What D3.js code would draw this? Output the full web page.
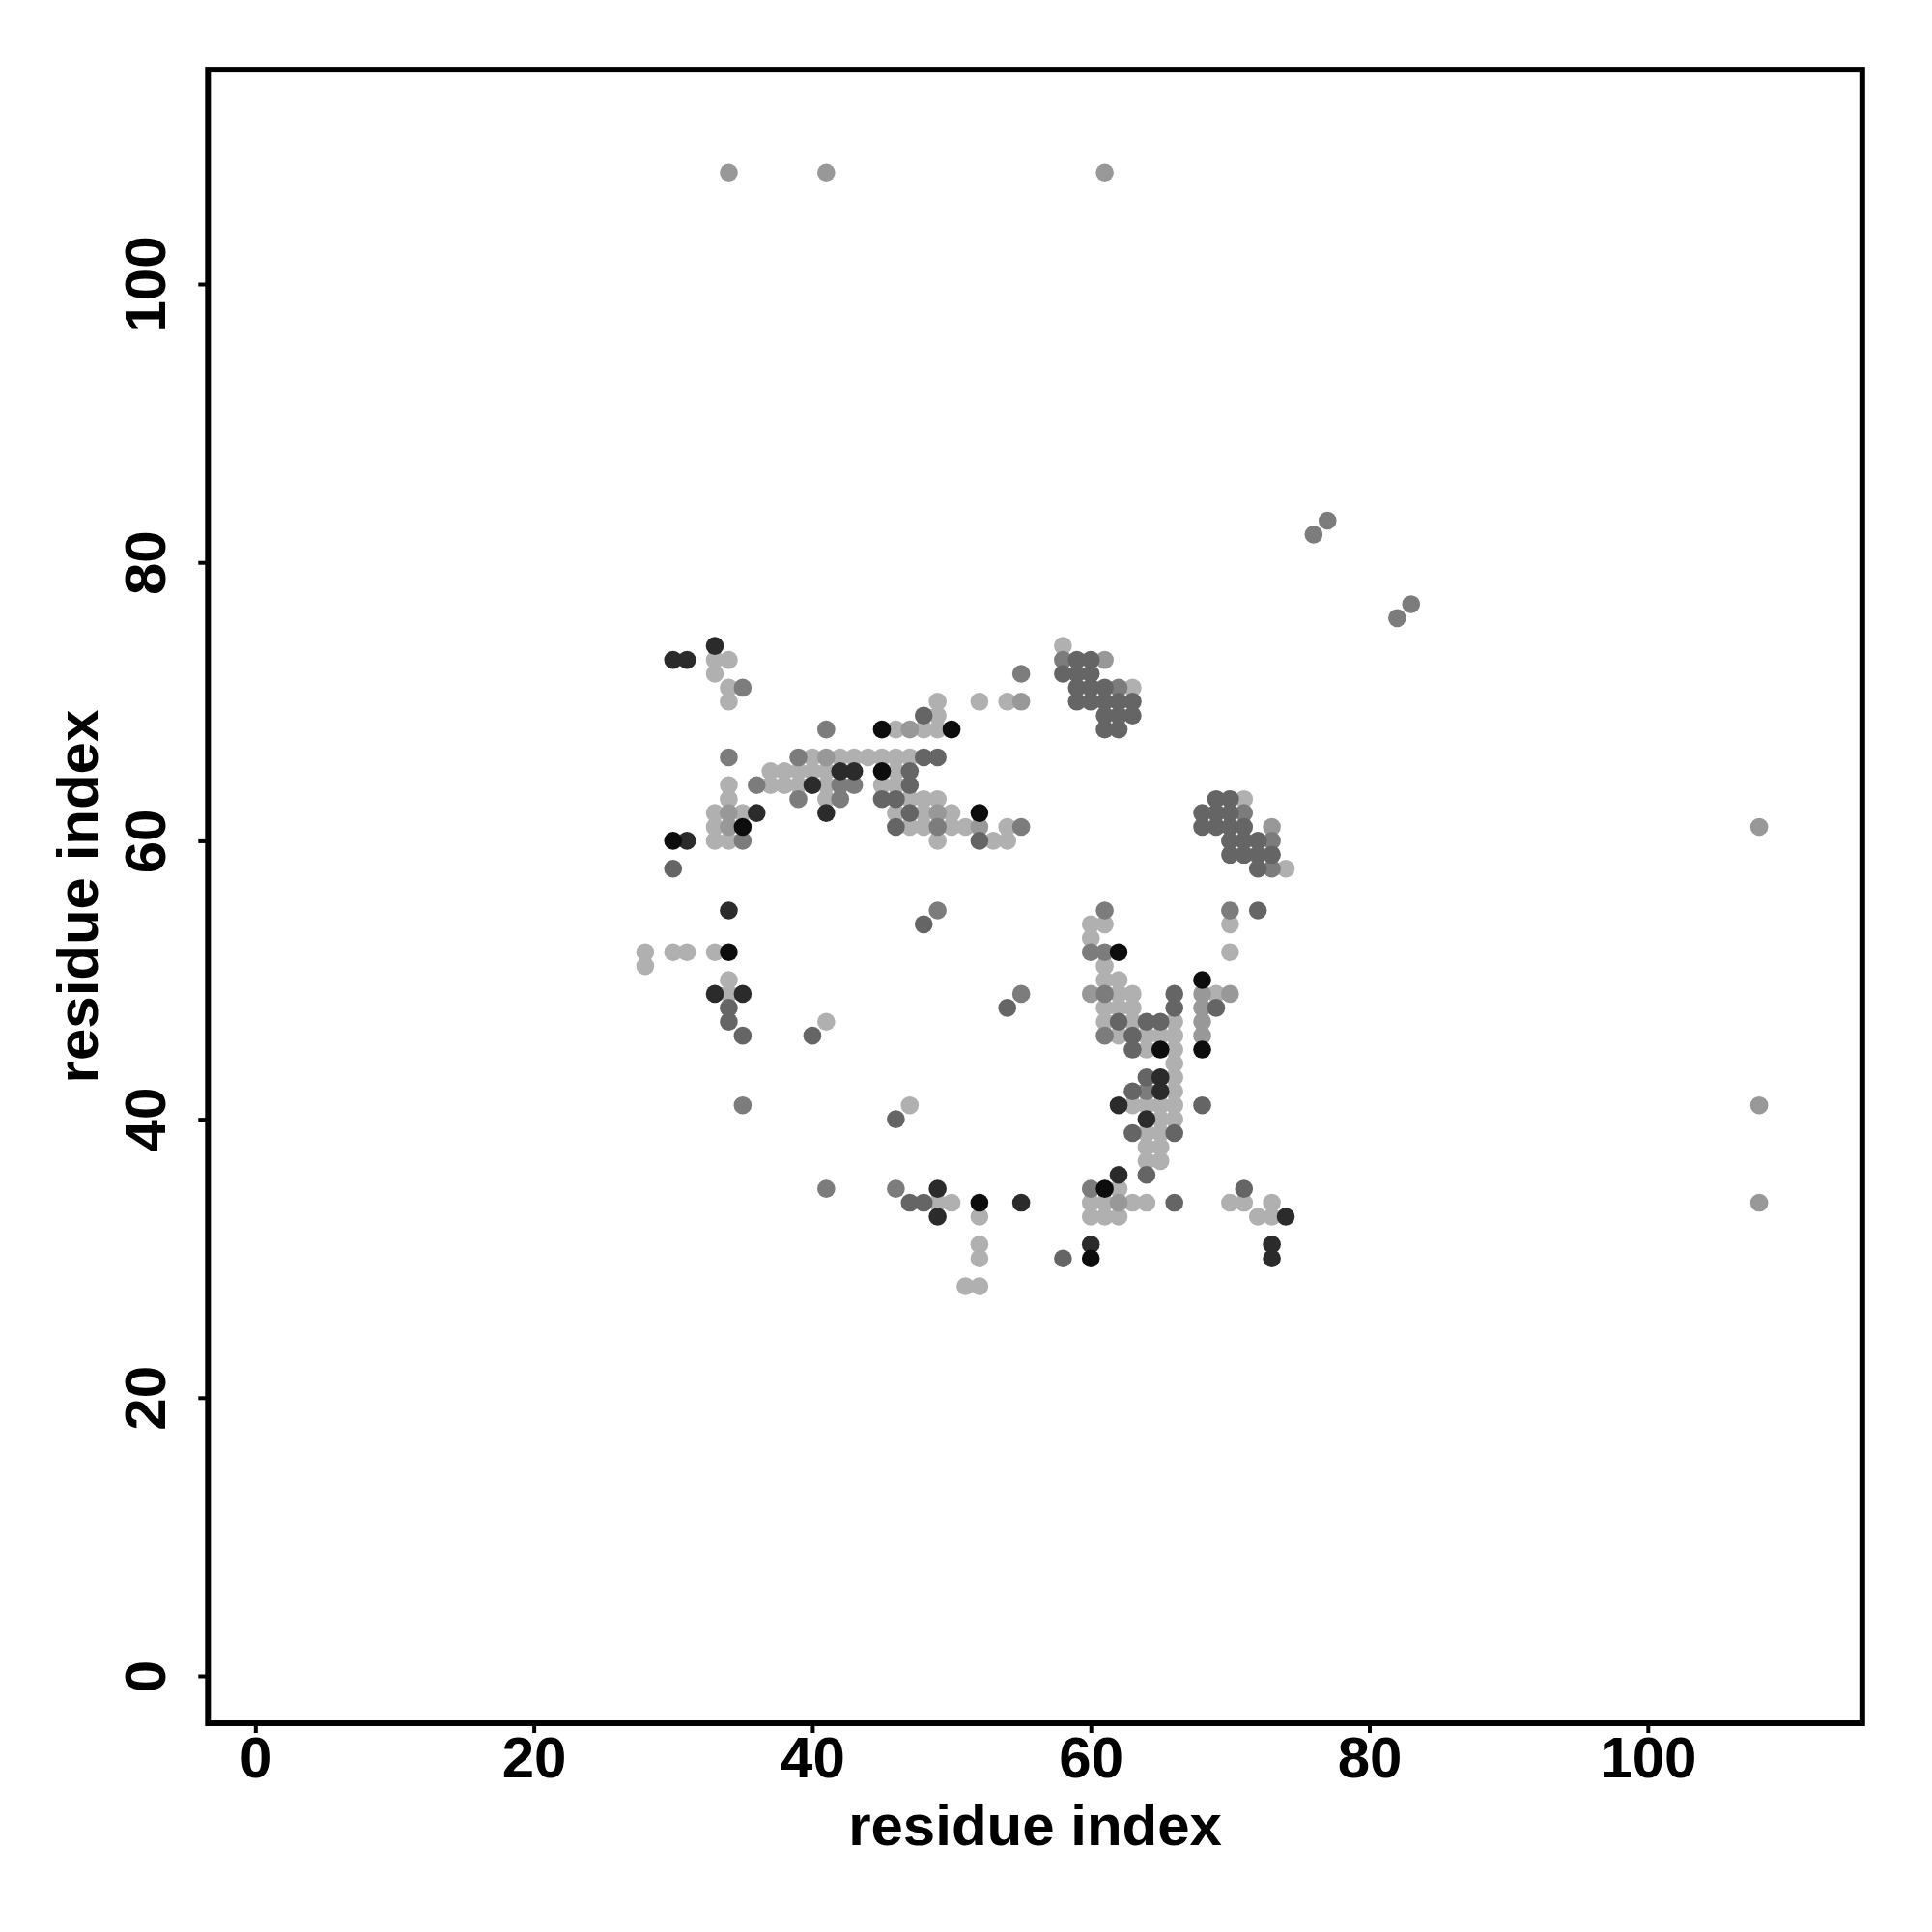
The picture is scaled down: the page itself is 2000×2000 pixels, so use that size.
<!DOCTYPE html>
<html><head><meta charset="utf-8">
<script src="https://cdn.jsdelivr.net/npm/d3@7"></script>
<style>body{margin:0;background:#fff}</style>
</head><body>
<script>
// Contact map points grouped by shade level (residue i, residue j)
const blackPts = [[30,60],[35,61],[45,65],[45,68],[50,68],[52,62],[34,52],[62,52],[68,50],[65,45],[68,45],[61,35],[60,30],[52,34]];
const veryDarkPts = [[33,74],[30,73],[31,73],[42,65],[43,65],[40,64],[36,62],[41,62],[31,60],[34,55],[33,49],[35,49],
  [65,43],[65,42],[62,41],[64,40],[62,36],[74,33],[60,31],[73,31],[73,30],[49,35],[55,34],[49,33]];
const darkGrayPts = [[48,66],[49,66],[47,65],[47,64],[45,63],[46,63],[47,62],[46,61],[52,60],[48,69],
  [59,73],[60,73],[58,72],[59,72],[60,72],[59,71],[60,71],[61,71],[59,70],[60,70],[61,70],[62,70],[63,70],
  [61,69],[62,69],[63,69],[61,68],[62,68],
  [69,63],[70,63],[68,62],[69,62],[70,62],[68,61],[69,61],[70,61],[71,61],[70,60],[71,60],[72,60],
  [70,59],[71,59],[72,59],[73,59],[72,58],
  [30,58],[34,48],[34,47],[35,46],[40,46],[48,54],[54,48],
  [72,55],[66,49],[66,48],[69,48],[62,47],[64,47],[65,47],[63,46],[63,45],[64,43],[63,42],[68,41],[63,39],[66,39],[64,36],
  [71,35],[66,34],[46,40],[47,34],[48,34],[58,30]];
const grayPts = [[35,71],[41,68],[34,66],[39,66],[36,64],[42,64],[43,64],[39,63],[42,63],[49,61],[55,61],[35,60],[55,72],
  [58,73],[62,71],[71,62],[73,60],[73,58],
  [49,55],[55,49],[61,55],[70,55],[60,52],[61,52],[61,49],[61,46],[64,42],[60,35],
  [35,41],[41,35],[46,35],[76,82],[77,83],[82,76],[83,77]];
const midPts = [[41,66],[34,62],[49,62],[34,61],[52,61],[47,68],[55,70],[61,73],[73,61],
  [60,49],[68,49],[70,49],[68,48],[68,47],[68,46],[62,34],
  [34,108],[41,108],[61,108],[108,61],[108,41],[108,34]];
const lightPts = [[33,73],[34,73],[33,72],[34,71],[34,70],[40,66],[42,66],[43,66],[44,66],[45,66],[46,66],[47,66],
  [37,65],[38,65],[39,65],[40,65],[41,65],[46,65],[37,64],[38,64],[39,64],[41,64],[45,64],[46,64],[34,64],
  [34,63],[41,63],[47,63],[48,63],[49,63],[33,62],[35,62],[46,62],[48,62],[50,62],
  [33,61],[47,61],[48,61],[50,61],[51,61],[54,61],[33,60],[34,60],[49,60],[53,60],[54,60],
  [46,68],[48,68],[49,68],[49,69],[49,70],[52,70],[54,70],[58,74],[63,71],[71,63],[74,58],
  [28,52],[30,52],[31,52],[33,52],[28,51],[34,50],[34,49],[41,47],
  [60,54],[61,54],[70,54],[60,53],[70,52],[61,51],[61,50],[62,50],[62,49],[63,49],[69,49],
  [61,48],[62,48],[63,48],[61,47],[63,47],[66,47],[62,46],[64,46],[65,46],[66,46],[64,45],[66,45],[66,44],[66,43],
  [66,42],[63,41],[64,41],[65,41],[66,41],[65,40],[66,40],[64,39],[65,39],[64,38],[65,38],[64,37],[65,37],
  [62,35],[60,34],[61,34],[63,34],[64,34],[70,34],[71,34],[73,34],[60,33],[61,33],[62,33],[72,33],[73,33],
  [47,41],[49,34],[50,34],[52,33],[52,31],[52,30],[51,28],[52,28]];
const xTicks = [0,20,40,60,80,100];
const yTicks = [0,20,40,60,80,100];
const xTitle = "residue index";
const yTitle = "residue index";

const groups = [
  {pts: lightPts, color: "#b0b0b0"},
  {pts: midPts, color: "#989898"},
  {pts: grayPts, color: "#7c7c7c"},
  {pts: darkGrayPts, color: "#656565"},
  {pts: veryDarkPts, color: "#2b2b2b"},
  {pts: blackPts, color: "#0d0d0d"}
];

const W = 2000, H = 2000;
const svg = d3.select("body").append("svg").attr("width", W).attr("height", H)
  .style("font-family", "'Liberation Sans', Arial, Helvetica, sans-serif").style("font-weight", "bold");

const x = d3.scaleLinear().domain([-3.4, 115.4]).range([215.3, 1927.8]);
const y = d3.scaleLinear().domain([-3.4, 115.4]).range([1784, 72.1]);

// points
groups.forEach(g => {
  svg.append("g").selectAll("circle").data(g.pts).join("circle")
    .attr("cx", d => x(d[0])).attr("cy", d => y(d[1])).attr("r", 9.3)
    .attr("fill", g.color);
});

// frame
svg.append("rect").attr("x", x.range()[0]).attr("y", y.range()[1])
  .attr("width", x.range()[1] - x.range()[0]).attr("height", y.range()[0] - y.range()[1])
  .attr("fill", "none").attr("stroke", "#000").attr("stroke-width", 6);

// x axis
const gx = svg.append("g").attr("transform", `translate(0,${y.range()[0]})`)
  .call(d3.axisBottom(x).tickValues(xTicks).tickSize(10).tickSizeOuter(0).tickFormat(d3.format("d")));
gx.select(".domain").remove();
gx.selectAll(".tick line").attr("stroke", "#000").attr("stroke-width", 4);
gx.selectAll(".tick text").attr("y", 56).attr("dy", 0).attr("fill", "#000")
  .style("font-size", "60px").style("font-weight", "bold").style("font-family", "'Liberation Sans', Arial, sans-serif");

// y axis
const gy = svg.append("g").attr("transform", `translate(${x.range()[0]},0)`)
  .call(d3.axisLeft(y).tickValues(yTicks).tickSize(10).tickSizeOuter(0).tickFormat(d3.format("d")));
gy.select(".domain").remove();
gy.selectAll(".tick line").attr("stroke", "#000").attr("stroke-width", 4);
gy.selectAll(".tick text").attr("x", 0).attr("y", 0).attr("dy", 0)
  .attr("text-anchor", "middle").attr("transform", "translate(-44,0) rotate(-90)").attr("fill", "#000")
  .style("font-size", "60px").style("font-weight", "bold").style("font-family", "'Liberation Sans', Arial, sans-serif");

// titles
svg.append("text").attr("x", (x.range()[0] + x.range()[1]) / 2).attr("y", 1910)
  .attr("text-anchor", "middle").style("font-size", "60px").text(xTitle);
svg.append("text").attr("transform", `translate(101,${(y.range()[0] + y.range()[1]) / 2}) rotate(-90)`)
  .attr("text-anchor", "middle").style("font-size", "60px").text(yTitle);
</script>
</body></html>
